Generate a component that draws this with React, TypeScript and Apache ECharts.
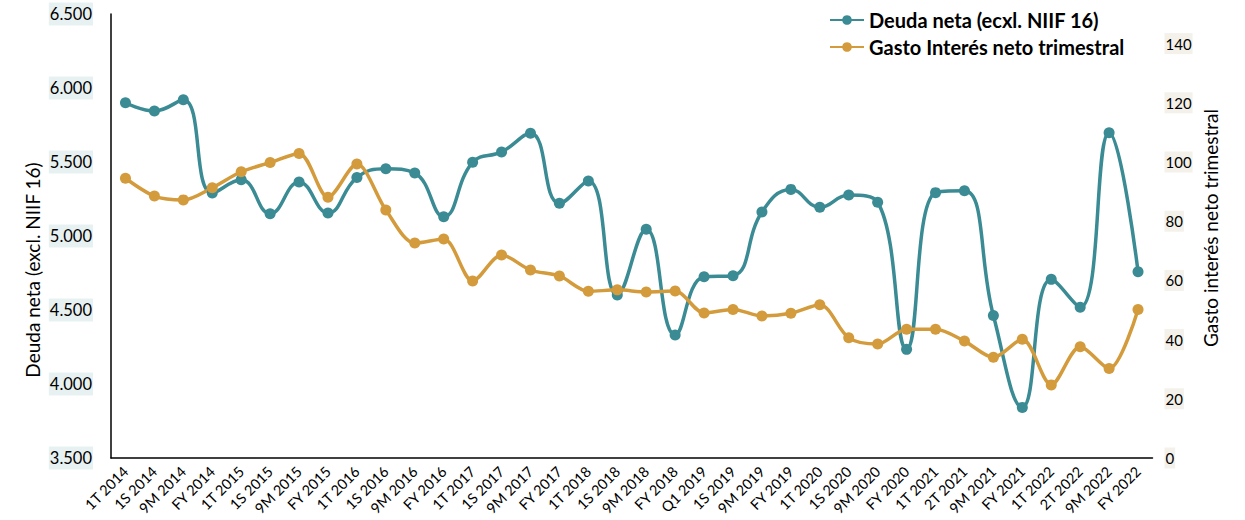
import React, { useEffect, useRef } from 'react';
import * as echarts from 'echarts';

const categories = [
  '1T 2014', '1S 2014', '9M 2014', 'FY 2014',
  '1T 2015', '1S 2015', '9M 2015', 'FY 2015',
  '1T 2016', '1S 2016', '9M 2016', 'FY 2016',
  '1T 2017', '1S 2017', '9M 2017', 'FY 2017',
  '1T 2018', '1S 2018', '9M 2018', 'FY 2018',
  'Q1 2019', '1S 2019', '9M 2019', 'FY 2019',
  '1T 2020', '1S 2020', '9M 2020', 'FY 2020',
  '1T 2021', '2T 2021', '9M 2021', 'FY 2021',
  '1T 2022', '2T 2022', '9M 2022', 'FY 2022',
];

const deudaNeta = [
  5900, 5845, 5920, 5290,
  5380, 5150, 5365, 5155,
  5395, 5455, 5425, 5130,
  5498, 5568, 5694, 5221,
  5372, 4601, 5045, 4331,
  4725, 4732, 5162, 5315,
  5194, 5277, 5228, 4234,
  5293, 5305, 4463, 3842,
  4707, 4518, 5698, 4759,
];

const gastoInteres = [
  94.5, 88.5, 87.2, 91.3,
  96.7, 99.8, 102.9, 88.1,
  99.3, 83.8, 72.6, 74.0,
  59.8, 68.6, 63.5, 61.5,
  56.3, 56.8, 56.1, 56.4,
  49.0, 50.2, 48.0, 48.9,
  51.8, 40.6, 38.5, 43.5,
  43.5, 39.5, 34.0, 40.1,
  24.7, 37.6, 30.2, 50.2,
];

const leftTicks = [3500, 4000, 4500, 5000, 5500, 6000, 6500];
const rightTicks = [0, 20, 40, 60, 80, 100, 120, 140];

const seriesNames = ['Deuda neta (ecxl. NIIF 16)', 'Gasto Interés neto trimestral'];
const leftAxisName = 'Deuda neta (excl. NIIF 16)';
const rightAxisName = 'Gasto interés neto trimestral';

const TEAL = '#3a8b94';
const GOLD = '#d39b3b';
const FONT = 'Lato, "Open Sans", sans-serif';

function fmtThousands(v: number): string {
  const s = Math.round(v).toString();
  return s.replace(/\B(?=(\d{3})+(?!\d))/g, '.');
}

export default function App() {
  const ref = useRef<HTMLDivElement>(null);

  useEffect(() => {
    document.body.style.margin = '0';
    if (!ref.current) return;
    const chart = echarts.init(ref.current, undefined, { renderer: 'svg' });
    chart.setOption({
      animation: false,
      backgroundColor: '#ffffff',
      textStyle: { fontFamily: FONT },
      grid: { left: 111, right: 92.5, top: 14, bottom: 62, containLabel: false },
      legend: {
        orient: 'vertical',
        left: 824,
        top: 5,
        itemWidth: 34,
        itemHeight: 12,
        itemGap: 7,
        textStyle: { fontFamily: FONT, fontWeight: 'bold', fontSize: 20, color: '#000' },
        data: seriesNames,
      },
      xAxis: {
        type: 'category',
        data: categories,
        boundaryGap: true,
        axisLine: { show: true, lineStyle: { color: '#000', width: 1.5 } },
        axisTick: { show: false },
        axisLabel: {
          interval: 0,
          rotate: 45,
          fontSize: 14.5,
          color: '#000',
          fontFamily: FONT,
          margin: 11,
        },
        splitLine: { show: false },
      },
      yAxis: [
        {
          type: 'value',
          position: 'left',
          min: 3500,
          max: 6500,
          interval: 500,
          axisLine: { show: true, lineStyle: { color: '#000', width: 1.5 } },
          axisTick: { show: false },
          splitLine: { show: false },
          axisLabel: {
            customValues: leftTicks,
            formatter: (v: number) => fmtThousands(v),
            fontSize: 16.5,
            color: '#000',
            fontFamily: FONT,
            margin: 18,
            backgroundColor: '#e8f1f1',
            padding: [3, 1, 3, 1],
          },
        },
        {
          type: 'value',
          position: 'right',
          min: 0,
          max: 150,
          interval: 20,
          axisLine: { show: false },
          axisTick: { show: false },
          splitLine: { show: false },
          axisLabel: {
            customValues: rightTicks,
            fontSize: 15,
            color: '#000',
            fontFamily: FONT,
            margin: 12,
            backgroundColor: '#f3f1ea',
            padding: [3, 1, 3, 1],
          },
        },
      ],
      graphic: [
        {
          type: 'text',
          x: 32,
          y: 270,
          rotation: Math.PI / 2,
          style: {
            text: leftAxisName,
            textAlign: 'center',
            textVerticalAlign: 'middle',
            fontSize: 19,
            fontFamily: FONT,
            fill: '#000',
          },
        },
        {
          type: 'text',
          x: 1210,
          y: 228,
          rotation: Math.PI / 2,
          style: {
            text: rightAxisName,
            textAlign: 'center',
            textVerticalAlign: 'middle',
            fontSize: 19,
            fontFamily: FONT,
            fill: '#000',
          },
        },
      ],
      series: [
        {
          name: seriesNames[0],
          type: 'line',
          yAxisIndex: 0,
          data: deudaNeta,
          smooth: 0.45,
          symbol: 'circle',
          symbolSize: 11,
          lineStyle: { color: TEAL, width: 3.5 },
          itemStyle: { color: TEAL },
        },
        {
          name: seriesNames[1],
          type: 'line',
          yAxisIndex: 1,
          data: gastoInteres,
          smooth: 0.3,
          symbol: 'circle',
          symbolSize: 11,
          lineStyle: { color: GOLD, width: 3.5 },
          itemStyle: { color: GOLD },
        },
      ],
    });
    return () => chart.dispose();
  }, []);

  return <div ref={ref} style={{ width: 1245, height: 520 }} />;
}
